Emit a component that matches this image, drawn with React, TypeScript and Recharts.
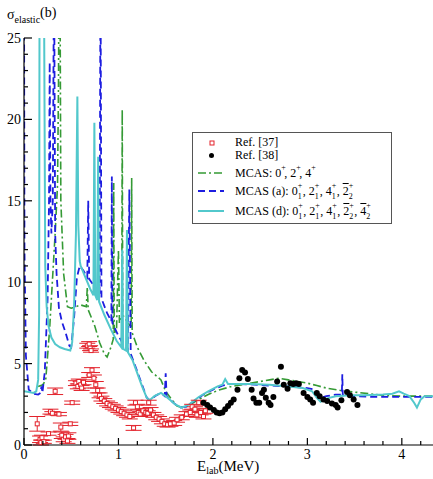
import React from "react";
import { ComposedChart, Line, Scatter, ErrorBar, XAxis, YAxis } from "recharts";

const FONT = '"Liberation Serif", "DejaVu Serif", Tinos, Times, serif';

// MCAS (d) curve, [E_lab, sigma]
const cyanCurve: [number, number][] = [
  [0, 3.3], [0.05, 3.25], [0.1, 3.2], [0.13, 3.3], [0.15, 4], [0.16, 8], [0.165, 30],
  [0.21, 30], [0.225, 11], [0.24, 8.5], [0.26, 7.3], [0.29, 6.6], [0.33, 6.2], [0.38, 6.0],
  [0.43, 5.9], [0.49, 5.8], [0.51, 6.3], [0.53, 8.5], [0.55, 13], [0.565, 21.4], [0.575, 13.5],
  [0.59, 11.3], [0.6, 11.0], [0.65, 10.3], [0.7, 9.6], [0.735, 9.2], [0.745, 19.8], [0.755, 9.2],
  [0.775, 8.9], [0.785, 17.7], [0.795, 8.8], [0.85, 8.0], [0.92, 7.1], [0.98, 6.4], [1.03, 6.0],
  [1.04, 12], [1.05, 5.9], [1.08, 5.8], [1.09, 13.2], [1.1, 5.7], [1.15, 5.2], [1.2, 4.4],
  [1.25, 3.6], [1.3, 2.9], [1.33, 2.75], [1.38, 3.0], [1.45, 3.2], [1.5, 3.0], [1.55, 2.75],
  [1.6, 2.5], [1.67, 2.3], [1.75, 2.5], [1.85, 2.95], [1.95, 3.3], [2.05, 3.6], [2.1, 3.7],
  [2.13, 4.05], [2.16, 3.75], [2.25, 3.75], [2.4, 3.75], [2.6, 3.7], [2.8, 3.6], [2.95, 3.5],
  [3.05, 3.3], [3.1, 2.9], [3.14, 2.65], [3.2, 2.85], [3.3, 3.0], [3.45, 3.05], [3.6, 3.05],
  [3.8, 3.1], [3.9, 3.15], [3.97, 3.3], [4.02, 3.15], [4.08, 3.0], [4.13, 2.6], [4.16, 2.3],
  [4.2, 2.8], [4.24, 3.0], [4.33, 3.0],
];

// MCAS (a) curve
const blueCurve: [number, number][] = [
  [0, 30], [0.005, 12], [0.02, 5.5], [0.05, 3.4], [0.1, 3.15], [0.15, 3.1], [0.175, 3.2],
  [0.185, 3.6], [0.195, 3.2], [0.22, 4.5], [0.25, 9], [0.265, 15], [0.272, 23.5], [0.28, 15],
  [0.29, 13], [0.305, 15], [0.318, 30], [0.33, 13], [0.345, 10.5], [0.37, 8.4], [0.4, 7.6],
  [0.44, 6.9], [0.48, 6.1], [0.5, 6.0], [0.53, 7.8], [0.56, 10.3], [0.59, 11.0], [0.63, 10.7],
  [0.67, 10.3], [0.68, 15], [0.69, 10.2], [0.75, 9.7], [0.8, 9.2], [0.81, 30], [0.82, 9.0],
  [0.88, 8.1], [0.925, 7.6], [0.93, 16.5], [0.935, 7.5], [1.0, 6.7], [1.05, 6.2], [1.1, 5.8],
  [1.115, 15.7], [1.13, 5.6], [1.2, 4.5], [1.25, 3.7], [1.3, 2.9], [1.33, 2.75], [1.4, 3.05],
  [1.45, 3.2], [1.49, 3.0], [1.5, 4.4], [1.51, 3.0], [1.58, 2.6], [1.65, 2.3], [1.72, 2.35],
  [1.8, 2.7], [1.9, 3.1], [2.0, 3.4], [2.1, 3.65], [2.2, 3.75], [2.4, 3.72], [2.6, 3.65],
  [2.8, 3.6], [3.0, 3.5], [3.08, 3.4], [3.14, 2.9], [3.2, 3.0], [3.3, 3.1], [3.365, 3.1],
  [3.37, 4.35], [3.375, 3.05], [3.5, 3.0], [3.7, 2.95], [4.33, 2.95],
];

// MCAS: 0+, 2+, 4+ curve
const greenCurve: [number, number][] = [
  [0.15, 3.6], [0.2, 3.7], [0.23, 4.0], [0.27, 7], [0.3, 10], [0.33, 13], [0.355, 16],
  [0.365, 22], [0.372, 30], [0.38, 30], [0.39, 15], [0.42, 10.5], [0.46, 8.5], [0.5, 8.4],
  [0.55, 8.5], [0.6, 8.6], [0.66, 8.5], [0.67, 9.7], [0.68, 8.3], [0.75, 7.3], [0.8, 6.3],
  [0.85, 5.6], [0.88, 5.4], [0.92, 6.0], [0.945, 6.5], [0.95, 16.1], [0.955, 6.8], [0.98, 7.2],
  [1.0, 12], [1.01, 7.5], [1.035, 8], [1.04, 20.6], [1.045, 8], [1.1, 7.5], [1.135, 7.2],
  [1.14, 16.4], [1.145, 6.9], [1.2, 6.0], [1.27, 5.2], [1.35, 4.5], [1.45, 4.0], [1.5, 3.3],
  [1.55, 2.9], [1.62, 2.4], [1.68, 2.3], [1.75, 2.45], [1.85, 2.8], [1.95, 3.1], [2.05, 3.35],
  [2.2, 3.6], [2.35, 3.75], [2.5, 3.9], [2.6, 4.0], [2.7, 4.1], [2.8, 4.0], [2.9, 3.9],
  [3.0, 3.8], [3.1, 3.65], [3.2, 3.5], [3.35, 3.35], [3.5, 3.25], [3.65, 3.15], [3.8, 3.05],
  [4.0, 3.0], [4.33, 3.0],
];

// Ref. [37]: [E, sigma, error]
const ref37: [number, number, number][] = [
  [0.14, 1.3, 0.45], [0.17, 0.35, 0.2], [0.18, 0.15, 0.15], [0.19, 0.45, 0.15], [0.21, 0.2, 0.1],
  [0.26, 0.7, 0.1], [0.28, 2.05, 0.15], [0.3, 1.95, 0.1], [0.33, 3.3, 0.2], [0.37, 1.9, 0.1],
  [0.39, 1.1, 0.25], [0.4, 0.6, 0.2], [0.42, 0.35, 0.15], [0.44, 0.5, 0.15], [0.46, 0.25, 0.15],
  [0.47, 0.55, 0.2], [0.49, 1.3, 0.1], [0.51, 2.6, 0.1], [0.55, 3.8, 0.15], [0.57, 3.6, 0.15],
  [0.58, 3.9, 0.15], [0.6, 3.7, 0.2], [0.61, 3.5, 0.15], [0.63, 3.85, 0.15], [0.67, 6.1, 0.15],
  [0.69, 6.2, 0.15], [0.7, 5.95, 0.15], [0.71, 5.8, 0.1], [0.69, 4.3, 0.15], [0.72, 4.6, 0.15],
  [0.74, 4.1, 0.2], [0.76, 3.7, 0.2], [0.78, 3.35, 0.15], [0.8, 3.05, 0.15], [0.82, 2.85, 0.15],
  [0.85, 2.7, 0.15], [0.88, 2.55, 0.15], [0.91, 2.45, 0.15], [0.94, 2.35, 0.15], [0.97, 2.25, 0.15],
  [1.0, 2.15, 0.15], [1.03, 2.05, 0.15], [1.06, 1.95, 0.15], [1.09, 1.85, 0.15], [1.12, 1.75, 0.15],
  [1.16, 1.05, 0.15], [1.18, 2.6, 0.15], [1.2, 2.35, 0.15], [1.21, 2.0, 0.15], [1.23, 1.9, 0.15],
  [1.26, 2.1, 0.15], [1.29, 2.0, 0.15], [1.31, 1.95, 0.15], [1.32, 2.6, 0.15], [1.34, 2.15, 0.15],
  [1.37, 1.85, 0.15], [1.4, 1.7, 0.15], [1.43, 1.6, 0.15], [1.46, 1.45, 0.15], [1.49, 1.3, 0.15],
  [1.52, 1.25, 0.15], [1.55, 1.3, 0.15], [1.59, 1.35, 0.15], [1.62, 1.55, 0.15], [1.67, 1.7, 0.15],
  [1.72, 1.9, 0.15], [1.76, 2.0, 0.15], [1.78, 2.35, 0.15], [1.81, 2.2, 0.15], [1.83, 1.85, 0.15],
  [1.85, 2.6, 0.15], [1.87, 2.0, 0.15], [1.9, 1.75, 0.15], [1.92, 2.1, 0.15],
];

// Ref. [38]: [E, sigma]
const ref38: [number, number][] = [
  [1.9, 2.6], [1.94, 2.45], [1.97, 2.3], [2.01, 2.15], [2.04, 2.0], [2.07, 1.95], [2.1, 2.0],
  [2.13, 2.2], [2.16, 2.4], [2.19, 2.6], [2.22, 2.8], [2.26, 3.4], [2.28, 4.1], [2.31, 4.6],
  [2.34, 4.45], [2.37, 4.05], [2.41, 3.4], [2.43, 2.85], [2.46, 2.6], [2.49, 2.6], [2.52, 3.2],
  [2.54, 3.4], [2.56, 2.9], [2.59, 2.6], [2.61, 2.45], [2.64, 2.95], [2.68, 3.9], [2.72, 4.8],
  [2.75, 3.7], [2.79, 3.45], [2.82, 3.8], [2.85, 3.75], [2.88, 3.8], [2.91, 3.75], [2.96, 3.2],
  [3.0, 2.95], [3.03, 2.8], [3.06, 2.6], [3.1, 3.2], [3.13, 3.0], [3.17, 2.8], [3.21, 2.7],
  [3.26, 2.55], [3.3, 2.45], [3.32, 2.3], [3.36, 2.75], [3.42, 3.25], [3.45, 3.05], [3.49, 2.8],
  [3.53, 2.45],
];

const xTicks = [0, 0.2, 0.4, 0.6, 0.8, 1, 1.2, 1.4, 1.6, 1.8, 2, 2.2, 2.4, 2.6, 2.8, 3, 3.2, 3.4, 3.6, 3.8, 4, 4.2];
const yTicks = [0, 1, 2, 3, 4, 5, 6, 7, 8, 9, 10, 11, 12, 13, 14, 15, 16, 17, 18, 19, 20, 21, 22, 23, 24, 25];

const RED = "#e3222b";
const BLUE = "#1d1de0";
const GREEN = "#359a35";
const CYAN = "#52c8cc";

const toXY = (arr: [number, number][]) => arr.map(([x, y]) => ({ x, y }));

const XTick = (props: any) => {
  const { x, y, payload } = props;
  const v = payload.value;
  const major = Math.abs(v - Math.round(v)) < 1e-6;
  return (
    <g>
      <line x1={x} x2={x} y1={y} y2={y - (major ? 7 : 4)} stroke="#000" strokeWidth={1.2} />
      {major && (
        <text x={x} y={y + 14} textAnchor="middle" fontSize={14} style={{ fontFamily: FONT }} fill="#000">
          {Math.round(v)}
        </text>
      )}
    </g>
  );
};

const YTick = (props: any) => {
  const { x, y, payload } = props;
  const v = payload.value;
  const major = v % 5 === 0;
  return (
    <g>
      <line x1={x} x2={x + (major ? 8 : 4)} y1={y} y2={y} stroke="#000" strokeWidth={1.2} />
      {major && (
        <text x={x - 3} y={y + 5} textAnchor="end" fontSize={14} style={{ fontFamily: FONT }} fill="#000">
          {v}
        </text>
      )}
    </g>
  );
};

const OpenSquare = (p: any) => (
  <rect x={p.cx - 2} y={p.cy - 2} width={4} height={4} fill="#fff" stroke={RED} strokeWidth={1} />
);
const Dot = (p: any) => <circle cx={p.cx} cy={p.cy} r={3} fill="#000" />;

// state label with stacked superscript / subscript
const St = ({ b, s, bar }: { b: string; s?: string; bar?: boolean }) => (
  <span style={{ position: "relative", marginRight: s ? 5 : 3 }}>
    <span style={{ textDecoration: bar ? "overline" : undefined }}>{b}</span>
    <span style={{ position: "absolute", left: "100%", top: -5, fontSize: 8 }}>+</span>
    {s && <span style={{ position: "absolute", left: "100%", top: 6, fontSize: 8 }}>{s}</span>}
  </span>
);

const LegendLine = ({ top, color, dash, w }: { top: number; color: string; dash?: string; w: number }) => (
  <svg style={{ position: "absolute", left: 4, top: top - 3 }} width={28} height={6}>
    <line x1={1} x2={27} y1={3} y2={3} stroke={color} strokeWidth={w} strokeDasharray={dash} />
  </svg>
);

const row = (top: number): React.CSSProperties => ({
  position: "absolute",
  left: 42,
  top: top - 7,
  lineHeight: "14px",
  whiteSpace: "nowrap",
});

const LegendBox = () => (
  <div
    style={{
      position: "absolute",
      left: 192,
      top: 132,
      width: 198,
      height: 90,
      border: "1.5px solid #555",
      background: "#fff",
      fontFamily: FONT,
      fontSize: 12,
      color: "#000",
    }}
  >
    <svg style={{ position: "absolute", left: 16, top: 7 }} width={6} height={6}>
      <rect x={1} y={1} width={4} height={4} fill="#fff" stroke={RED} />
    </svg>
    <div style={row(9)}>Ref. [37]</div>
    <svg style={{ position: "absolute", left: 15, top: 19 }} width={7} height={7}>
      <circle cx={3.5} cy={3.5} r={2.5} fill="#000" />
    </svg>
    <div style={row(22)}>Ref. [38]</div>
    <LegendLine top={40} color={GREEN} dash="8 3 2 3" w={1.6} />
    <div style={row(40)}>
      MCAS: <St b="0" />, <St b="2" />, <St b="4" />
    </div>
    <LegendLine top={58} color={BLUE} dash="7 4" w={1.8} />
    <div style={row(58)}>
      MCAS (a): <St b="0" s="1" />, <St b="2" s="1" />, <St b="4" s="1" />, <St b="2" s="2" bar />
    </div>
    <LegendLine top={78} color={CYAN} w={2} />
    <div style={row(78)}>
      MCAS (d): <St b="0" s="1" />, <St b="2" s="1" />, <St b="4" s="1" />, <St b="2" s="2" bar />,{" "}
      <St b="4" s="2" bar />
    </div>
  </div>
);

export default function App() {
  const r37 = ref37.map(([x, y, err]) => ({ x, y, err }));
  const r38 = toXY(ref38);
  return (
    <div
      style={{
        position: "absolute",
        left: 0,
        top: 0,
        width: 433,
        height: 479,
        background: "#fff",
        fontFamily: FONT,
        overflow: "hidden",
      }}
    >
      <ComposedChart width={433} height={479} margin={{ top: 38, right: 0, bottom: 0, left: 0 }}>
        <XAxis
          type="number"
          dataKey="x"
          domain={[0, 4.33]}
          allowDataOverflow
          ticks={xTicks}
          interval={0}
          height={34}
          tickSize={0}
          tickMargin={0}
          tickLine={false}
          axisLine={{ stroke: "#000", strokeWidth: 1.2 }}
          tick={<XTick />}
        />
        <YAxis
          type="number"
          dataKey="y"
          domain={[0, 25]}
          allowDataOverflow
          ticks={yTicks}
          interval={0}
          width={24}
          tickSize={0}
          tickMargin={0}
          tickLine={false}
          axisLine={{ stroke: "#000", strokeWidth: 1.2 }}
          tick={<YTick />}
        />
        <Line
          data={toXY(greenCurve)}
          dataKey="y"
          type="linear"
          stroke={GREEN}
          strokeWidth={1.6}
          strokeDasharray="8 3 2 3"
          dot={false}
          isAnimationActive={false}
        />
        <Line
          data={toXY(blueCurve)}
          dataKey="y"
          type="linear"
          stroke={BLUE}
          strokeWidth={1.8}
          strokeDasharray="7 4"
          dot={false}
          isAnimationActive={false}
        />
        <Line
          data={toXY(cyanCurve)}
          dataKey="y"
          type="linear"
          stroke={CYAN}
          strokeWidth={2}
          dot={false}
          isAnimationActive={false}
        />
        <Scatter data={r37} dataKey="y" shape={<OpenSquare />} isAnimationActive={false}>
          <ErrorBar dataKey="err" direction="y" width={8} stroke={RED} strokeWidth={1} isAnimationActive={false} />
        </Scatter>
        <Scatter data={r38} dataKey="y" shape={<Dot />} isAnimationActive={false} />
      </ComposedChart>

      <div style={{ position: "absolute", left: 7, top: 8, fontSize: 14, lineHeight: "14px", whiteSpace: "nowrap" }}>
        σ<span style={{ fontSize: 10, position: "relative", top: 4 }}>elastic</span>
        <span style={{ position: "relative", top: -2 }}>(b)</span>
      </div>

      <div style={{ position: "absolute", left: 197, top: 459, fontSize: 15, lineHeight: "15px", whiteSpace: "nowrap" }}>
        E<span style={{ fontSize: 10, position: "relative", top: 3 }}>lab</span>(MeV)
      </div>

      <LegendBox />
    </div>
  );
}
